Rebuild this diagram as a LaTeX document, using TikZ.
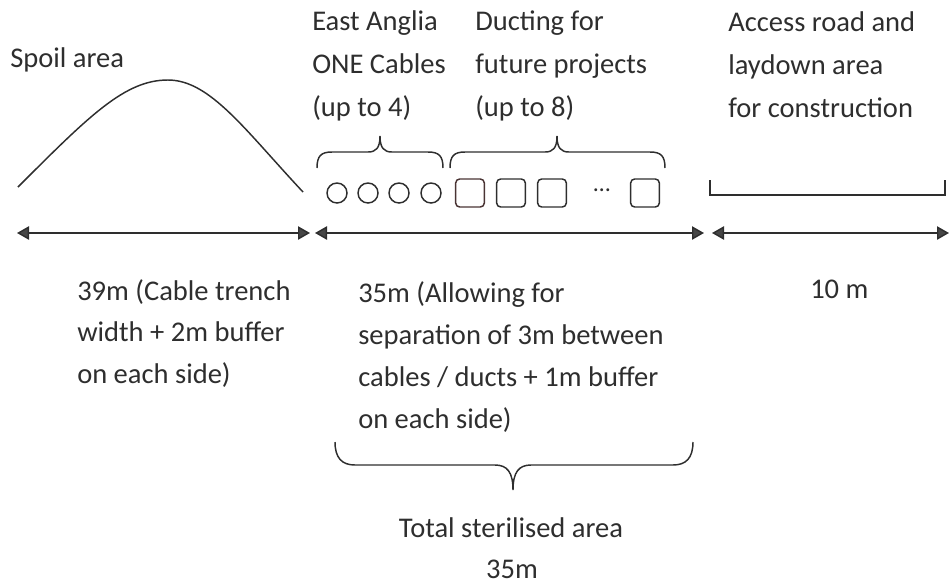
\documentclass[tikz,border=0pt]{standalone}
\usepackage{fontspec}
\setmainfont{Carlito}
\usetikzlibrary{arrows.meta}
\definecolor{ink}{HTML}{2E2E2E}
\definecolor{duct}{HTML}{4A3434}
\tikzset{
  lbl/.style={anchor=base west, inner sep=0pt, text=ink, font=\fontsize{21.4}{30}\selectfont},
  clbl/.style={anchor=base, inner sep=0pt, text=ink, font=\fontsize{21.4}{30}\selectfont},
  line/.style={draw=ink, line width=1.1pt},
  dim/.style={draw=ink, line width=1.1pt, {Triangle[length=9pt,width=10pt,fill=gray!55!black]}-{Triangle[length=9pt,width=10pt,fill=gray!55!black]}},
  cable/.style={circle, draw=ink, line width=1.1pt, minimum size=15pt, inner sep=0pt},
  ductbox/.style={draw=ink, line width=1.1pt, rounded corners=3pt, minimum width=21.5pt, minimum height=21pt, inner sep=0pt},
}
\begin{document}
\begin{tikzpicture}[x=0.75pt, y=-0.75pt]
\useasboundingbox (0,0) rectangle (950,586);

% spoil mound
\coordinate (s0) at (18,187);
\coordinate (s1) at (168,80);
\coordinate (s2) at (303,192);
\draw[line] (s0) .. controls (90,115) and (125,80) .. (s1) .. controls (210,80) and (245,130) .. (s2);
\node[lbl] (spoil) at (10,67) {Spoil area};

% cables
\node[cable] (c1) at (337,193) {};
\node[cable] (c2) at (368,193) {};
\node[cable] (c3) at (399,193) {};
\node[cable] (c4) at (431,193) {};

% ducts
\node[ductbox, draw=duct] (d1) at (470,193) {};
\node[ductbox] (d2) at (511,193) {};
\node[ductbox] (d3) at (552,193) {};
\node[inner sep=0pt, text=ink, font=\fontsize{18}{20}\selectfont] (dots) at (602,190) {…};
\node[ductbox] (d4) at (645,193) {};

% brace over cables
\draw[line] (317,168) .. controls (317,156) and (321,152) .. (332,152) -- (368,152)
  .. controls (376,152) and (380,148) .. (380,136)
  .. controls (380,148) and (384,152) .. (392,152) -- (428,152)
  .. controls (439,152) and (443,156) .. (443,168);
% brace over ducts
\draw[line] (450,168) .. controls (450,156) and (454,152) .. (465,152) -- (545,152)
  .. controls (553,152) and (557,148) .. (557,136)
  .. controls (557,148) and (561,152) .. (569,152) -- (650,152)
  .. controls (661,152) and (665,156) .. (665,168);

\node[lbl] (ea1) at (312,30) {East Anglia};
\node[lbl] (ea2) at (312,73) {ONE Cables};
\node[lbl] (ea3) at (312,116) {(up to 4)};
\node[lbl] (du1) at (475,30) {Ducting for};
\node[lbl] (du2) at (475,73) {future projects};
\node[lbl] (du3) at (475,116) {(up to 8)};

% access road
\coordinate (r0) at (710,180);
\coordinate (r1) at (710,195);
\coordinate (r2) at (945,195);
\coordinate (r3) at (945,180);
\draw[line, line width=0.9pt] (r0) -- (r1) -- (r2) -- (r3);
\node[lbl] (ac1) at (728,31) {Access road and};
\node[lbl] (ac2) at (728,74) {laydown area};
\node[lbl] (ac3) at (728,117) {for construction};

% dimension arrows
\coordinate (a1l) at (17,233);
\coordinate (a1r) at (310,233);
\coordinate (a2l) at (315,233);
\coordinate (a2r) at (704,233);
\coordinate (a3l) at (712,233);
\coordinate (a3r) at (949,233);
\draw[dim] (a1l) -- (a1r);
\draw[dim] (a2l) -- (a2r);
\draw[dim] (a3l) -- (a3r);

% dimension labels
\node[lbl] (w1a) at (77,300) {39m (Cable trench};
\node[lbl] (w1b) at (77,341) {width + 2m buffer};
\node[lbl] (w1c) at (77,383) {on each side)};

\node[lbl] (w2a) at (358,302) {35m (Allowing for};
\node[lbl] (w2b) at (358,344) {separation of 3m between};
\node[lbl] (w2c) at (358,386) {cables / ducts + 1m buffer};
\node[lbl] (w2d) at (358,428) {on each side)};

\node[lbl] (w3) at (810,298) {10 m};

% total brace
\draw[line] (335,442) .. controls (335,458) and (342,465) .. (355,465) -- (495,465)
  .. controls (507,465) and (513,472) .. (513,490)
  .. controls (513,472) and (519,465) .. (531,465) -- (673,465)
  .. controls (686,465) and (693,458) .. (693,442);
\node[clbl] (tot1) at (511,537) {Total sterilised area};
\node[clbl] (tot2) at (512,578) {35m};
\end{tikzpicture}
\end{document}
